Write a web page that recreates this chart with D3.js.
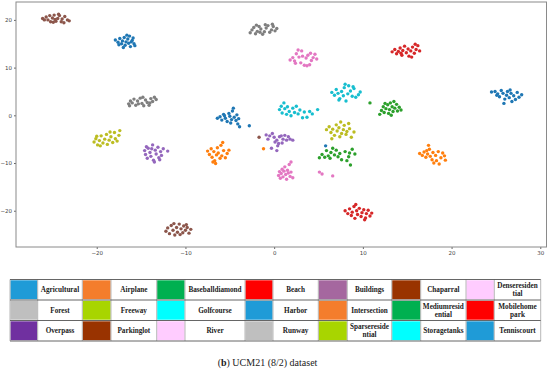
<!DOCTYPE html>
<html>
<head>
<meta charset="utf-8">
<script src="https://cdn.jsdelivr.net/npm/d3@7"></script>
<style>
  body { margin: 0; background: #fff; }
  svg { display: block; }
  .axis text { font-family: "DejaVu Sans", sans-serif; font-size: 5.5px; fill: #444; }
  .axis line { stroke: #666; }
  .legend-label { font-family: "Liberation Serif", serif; font-weight: bold; font-size: 7.2px; fill: #222; }
  .caption { font-family: "Liberation Serif", serif; font-size: 10px; fill: #222; }
</style>
</head>
<body>
<div id="chart"></div>
<script>
// class names, in the order the t-SNE colours were assigned
const classNames = [
  "Agricultural", "Airplane", "Baseballdiamond", "Beach", "Buildings", "Chaparral", "Denseresidential",
  "Forest", "Freeway", "Golfcourse", "Harbor", "Intersection", "Mediumresidential", "Mobilehomepark",
  "Overpass", "Parkinglot", "River", "Runway", "Sparseresidential", "Storagetanks", "Tenniscourt",
];

// matplotlib tab10, cycling
const pointColors = ["#1f77b4", "#ff7f0e", "#2ca02c", "#d62728", "#9467bd",
  "#8c564b", "#e377c2", "#7f7f7f", "#bcbd22", "#17becf"];

// embedded points per class [x, y]
const agricultural = [[-17.9,15.8],[-17.6,15.3],[-17.4,16.1],[-17.2,15.0],[-17.1,15.6],[-16.9,16.3],[-16.8,14.7],[-16.7,15.4],[-16.5,16.0],[-16.4,15.1],[-16.3,16.6],[-16.2,14.4],[-16.0,15.7],[-15.9,16.2],[-15.8,15.0],[-15.7,14.6],[-17.0,14.2],[-16.6,16.8],[-17.5,14.8],[-16.1,15.4]];
const airplane = [[-7.5,-7.5],[-7.3,-8.2],[-7.1,-7.0],[-7.0,-8.8],[-6.8,-7.6],[-6.7,-9.5],[-6.5,-8.3],[-6.4,-6.8],[-6.3,-7.9],[-6.1,-9.0],[-6.0,-6.3],[-5.9,-8.5],[-5.7,-7.4],[-5.5,-8.9],[-5.3,-8.0],[-5.1,-7.3],[-6.6,-10.1],[-5.8,-5.7],[-6.9,-9.8],[-1.2,-7.0]];
const baseballdiamond = [[11.9,0.2],[12.1,1.0],[12.3,1.8],[12.4,0.6],[12.6,1.4],[12.8,2.2],[12.9,0.4],[13.0,1.2],[13.1,2.6],[13.3,1.8],[13.4,0.8],[13.5,2.9],[13.6,1.5],[13.8,2.3],[13.9,0.9],[14.1,1.7],[14.3,1.1],[12.5,2.5],[13.2,0.0],[10.8,2.6]];
const beach = [[13.3,13.3],[13.6,13.8],[13.8,12.9],[14.0,13.4],[14.2,14.1],[14.4,12.6],[14.5,13.6],[14.7,14.5],[14.9,13.1],[15.1,13.9],[15.2,12.4],[15.4,13.5],[15.6,14.3],[15.8,13.0],[16.0,13.8],[16.2,14.6],[16.4,13.5],[14.3,13.0],[15.5,12.2],[15.9,14.9]];
const buildings = [[-0.9,-4.1],[-0.5,-4.3],[0.0,-4.6],[0.3,-5.2],[0.6,-4.5],[0.8,-4.3],[1.0,-5.0],[1.4,-5.2],[1.8,-5.0],[2.1,-5.2],[-0.3,-6.9],[0.3,-7.4],[0.5,-5.9],[-0.7,-5.0],[0.1,-5.6],[1.2,-4.2],[0.9,-5.8],[-0.2,-3.8],[1.6,-4.5],[0.4,-6.4]];
const chaparral = [[-26.1,20.3],[-25.7,20.6],[-25.5,20.0],[-25.2,19.6],[-25.0,20.4],[-24.8,21.0],[-24.6,19.7],[-24.4,20.3],[-24.2,20.9],[-24.0,19.6],[-23.9,20.2],[-23.7,19.4],[-23.3,20.0],[-25.9,20.0],[-24.9,19.5],[-24.3,21.2],[-23.6,20.7],[-25.3,20.9],[-24.7,20.1],[-23.1,19.8]];
const denseresidential = [[1.8,11.6],[2.1,12.1],[2.3,11.4],[2.5,12.9],[2.7,13.7],[2.8,12.2],[3.0,11.0],[3.2,12.4],[3.4,10.5],[3.6,12.0],[3.8,12.6],[4.0,10.6],[4.2,11.5],[4.4,12.1],[4.6,12.8],[4.8,11.8],[3.1,13.5],[2.4,10.9],[3.7,10.4],[4.1,13.0]];
const forest = [[-2.7,17.3],[-2.5,17.9],[-2.3,18.4],[-2.1,17.1],[-1.9,17.6],[-1.7,18.6],[-1.5,18.1],[-1.3,17.0],[-1.1,17.5],[-0.9,18.3],[-0.7,18.8],[-0.5,17.4],[-0.3,17.9],[-0.1,18.6],[0.1,17.7],[0.3,18.2],[-2.0,18.9],[-1.0,19.0],[-0.2,19.1],[-1.6,17.4]];
const freeway = [[-20.3,-5.6],[-20.1,-4.9],[-19.9,-6.2],[-19.7,-5.3],[-19.5,-4.3],[-19.3,-5.8],[-19.1,-5.0],[-18.9,-4.0],[-18.8,-6.1],[-18.6,-5.2],[-18.4,-4.5],[-18.2,-5.7],[-18.0,-3.6],[-17.9,-4.9],[-17.7,-5.4],[-17.5,-4.2],[-17.4,-3.2],[-19.6,-6.4],[-18.5,-3.5],[-20.0,-4.4]];
const golfcourse = [[6.5,4.8],[6.8,4.2],[7.0,5.4],[7.2,4.6],[7.4,3.5],[7.6,5.0],[7.8,4.1],[7.9,5.8],[8.1,3.0],[8.3,4.5],[8.4,6.2],[8.6,5.1],[8.8,4.0],[9.0,5.6],[9.2,3.8],[9.5,4.3],[9.7,4.9],[8.0,6.5],[7.3,3.2],[8.9,6.0]];
const harbor = [[24.5,4.9],[24.9,5.0],[25.2,4.5],[25.4,3.9],[25.6,5.2],[25.8,4.6],[26.0,3.4],[26.2,4.2],[26.3,5.0],[26.5,3.7],[26.7,4.6],[26.8,2.9],[27.0,4.1],[27.2,3.3],[27.4,4.8],[27.6,3.8],[27.9,4.3],[25.9,2.5],[26.6,5.3],[25.1,4.2]];
const intersection = [[16.4,-8.0],[16.7,-8.4],[16.9,-7.7],[17.1,-8.8],[17.3,-8.1],[17.4,-6.3],[17.5,-7.1],[17.6,-8.6],[17.8,-9.3],[17.9,-7.8],[18.0,-10.0],[18.2,-8.4],[18.3,-9.5],[18.5,-7.6],[18.6,-10.2],[18.8,-8.9],[19.0,-7.9],[19.2,-8.5],[19.3,-9.4],[17.2,-7.4]];
const mediumresidential = [[5.1,-8.9],[5.4,-8.2],[5.7,-8.8],[5.9,-7.4],[6.1,-8.5],[6.3,-9.0],[6.4,-7.8],[6.6,-6.9],[6.8,-8.3],[7.0,-7.3],[7.2,-8.7],[7.4,-8.0],[7.6,-9.3],[8.0,-7.6],[8.2,-9.5],[8.4,-8.7],[8.6,-10.4],[8.8,-7.1],[9.1,-8.1],[8.5,-7.9]];
const mobilehomepark = [[8.0,-20.0],[8.3,-20.6],[8.5,-19.6],[8.7,-21.0],[8.8,-20.3],[9.0,-19.1],[9.1,-21.6],[9.3,-20.0],[9.4,-20.8],[9.6,-19.5],[9.8,-21.2],[9.9,-20.4],[10.1,-19.8],[10.3,-21.5],[10.4,-20.6],[10.6,-19.9],[10.8,-21.1],[11.0,-20.5],[9.2,-18.7],[10.2,-21.9]];
const overpass = [[-14.6,-7.4],[-14.5,-8.2],[-14.3,-9.0],[-14.2,-6.9],[-14.0,-7.8],[-13.9,-8.6],[-13.7,-6.2],[-13.6,-9.4],[-13.4,-7.3],[-13.3,-8.1],[-13.1,-6.7],[-13.0,-8.9],[-12.8,-7.6],[-12.7,-8.4],[-12.5,-7.0],[-12.0,-7.5],[-13.5,-9.8],[-13.8,-7.0],[-12.9,-9.3],[-14.4,-6.6]];
const parkinglot = [[-12.2,-24.3],[-12.0,-23.6],[-11.8,-24.8],[-11.6,-23.1],[-11.4,-24.1],[-11.2,-25.1],[-11.0,-23.5],[-10.9,-24.5],[-10.7,-22.8],[-10.5,-23.8],[-10.3,-24.6],[-10.2,-23.2],[-10.0,-24.1],[-9.8,-23.5],[-9.6,-24.7],[-9.4,-23.9],[-11.3,-22.7],[-10.6,-25.0],[-9.9,-22.9],[-1.7,-4.6]];
const river = [[0.5,-12.6],[0.6,-11.8],[0.7,-13.2],[0.8,-12.2],[0.9,-11.3],[1.0,-12.9],[1.1,-11.7],[1.2,-10.8],[1.3,-12.4],[1.4,-13.4],[1.5,-11.5],[1.6,-12.1],[1.7,-10.3],[1.8,-12.8],[1.9,-11.9],[2.1,-13.1],[1.9,-9.8],[5.1,-11.9],[5.4,-12.3],[6.6,-12.7]];
const runway = [[-16.4,2.4],[-16.2,3.0],[-16.0,2.6],[-15.8,3.4],[-15.6,2.1],[-15.4,3.0],[-15.1,3.6],[-14.9,2.5],[-14.7,2.0],[-14.5,3.2],[-14.3,2.7],[-14.1,2.1],[-13.9,3.5],[-13.7,2.9],[-13.5,3.8],[-13.3,3.3],[-14.8,3.8],[-15.3,2.4],[-14.0,2.6],[-16.3,2.0]];
const sparseresidential = [[5.9,-3.0],[6.2,-2.4],[6.4,-3.6],[6.6,-2.9],[6.8,-4.2],[7.0,-2.0],[7.1,-3.3],[7.3,-2.6],[7.4,-4.5],[7.5,-1.4],[7.6,-3.8],[7.8,-3.0],[7.9,-2.1],[8.1,-4.0],[8.2,-3.4],[8.4,-1.7],[8.5,-2.8],[8.7,-4.6],[9.0,-3.5],[6.5,-4.9]];
const storagetanks = [[0.6,1.2],[0.8,1.9],[0.9,0.5],[1.1,2.6],[1.2,1.4],[1.4,0.2],[1.5,1.8],[1.7,0.8],[1.9,-0.1],[2.1,1.5],[2.3,0.6],[2.5,1.9],[2.7,0.3],[2.9,1.1],[3.2,-0.5],[3.4,0.7],[3.7,-0.4],[4.0,0.8],[4.3,0.3],[4.9,1.2]];
const tenniscourt = [[-6.4,-0.6],[-6.1,-0.3],[-5.9,-1.0],[-5.7,0.2],[-5.5,-0.6],[-5.3,-1.3],[-5.1,0.4],[-5.0,-0.2],[-4.8,-0.9],[-4.7,0.9],[-4.5,-0.4],[-4.3,-1.1],[-4.2,0.1],[-4.0,-0.7],[-4.1,-1.8],[-4.6,1.5],[-5.6,-0.1],[-4.9,-1.6],[-3.9,-2.4],[-2.8,-2.2],[5.8,-6.4]];

const classPoints = [agricultural, airplane, baseballdiamond, beach, buildings, chaparral, denseresidential,
  forest, freeway, golfcourse, harbor, intersection, mediumresidential, mobilehomepark,
  overpass, parkinglot, river, runway, sparseresidential, storagetanks, tenniscourt];

const xTicks = [-20, -10, 0, 10, 20, 30];
const yTicks = [-20, -10, 0, 10, 20];

// legend table, row by row (7 columns x 3 rows)
const legendLabels = [
  ["Agricultural"], ["Airplane"], ["Baseballdiamond"], ["Beach"], ["Buildings"], ["Chaparral"], ["Denseresiden", "tial"],
  ["Forest"], ["Freeway"], ["Golfcourse"], ["Harbor"], ["Intersection"], ["Mediumresid", "ential"], ["Mobilehome", "park"],
  ["Overpass"], ["Parkinglot"], ["River"], ["Runway"], ["Sparsereside", "ntial"], ["Storagetanks"], ["Tenniscourt"],
];
const legendColors = [
  "#1f9bd7", "#f47d2c", "#00b050", "#ff0000", "#a5679f", "#993300", "#ffccff",
  "#bfbfbf", "#a8d500", "#00ffff", "#1f9bd7", "#f47d2c", "#00b050", "#ff0000",
  "#7030a0", "#993300", "#ffccff", "#bfbfbf", "#a8d500", "#00ffff", "#1f9bd7",
];

const captionLabel = "b";
const captionText = " UCM21 (8/2) dataset";

const width = 550;
const height = 373;
const plot = { left: 16, right: 546.5, top: 2, bottom: 247 };

const x = d3.scaleLinear().domain([-29.1, 30.7]).range([plot.left, plot.right]);
const y = d3.scaleLinear().domain([-27.6, 23.75]).range([plot.bottom, plot.top]);

const svg = d3.select("#chart")
  .append("svg")
  .attr("width", width)
  .attr("height", height);

svg.append("rect")
  .attr("width", width)
  .attr("height", height)
  .attr("fill", "#fff");

// points
const pointsG = svg.append("g");
classPoints.forEach((pts, i) => {
  pointsG.append("g")
    .selectAll("circle")
    .data(pts)
    .join("circle")
    .attr("cx", (d) => x(d[0]))
    .attr("cy", (d) => y(d[1]))
    .attr("r", 1.7)
    .attr("fill", pointColors[i % pointColors.length]);
});

// axes
const fmt = (d) => (d < 0 ? "\u2212" + Math.abs(d) : d);

svg.append("g")
  .attr("class", "axis")
  .attr("transform", `translate(0,${plot.bottom})`)
  .call(d3.axisBottom(x).tickValues(xTicks).tickFormat(fmt).tickSize(2).tickPadding(2.5))
  .call((g) => g.select(".domain").remove());

svg.append("g")
  .attr("class", "axis")
  .attr("transform", `translate(${plot.left},0)`)
  .call(d3.axisLeft(y).tickValues(yTicks).tickFormat(fmt).tickSize(2).tickPadding(2))
  .call((g) => g.select(".domain").remove());

svg.append("rect")
  .attr("x", plot.left)
  .attr("y", plot.top)
  .attr("width", plot.right - plot.left)
  .attr("height", plot.bottom - plot.top)
  .attr("fill", "none")
  .attr("stroke", "#8a8a8a")
  .attr("stroke-width", 1);

// legend table
const colEdges = [10, 37.7, 82.3, 111, 156.7, 185, 245, 273, 318.3, 347.3, 391.7, 420.7, 466, 494.3, 540.7];
const rowEdges = [279.5, 300, 320.5, 341];

const legendG = svg.append("g");
legendLabels.forEach((lines, i) => {
  const col = i % 7;
  const row = Math.floor(i / 7);
  const x0 = colEdges[col * 2];
  const x1 = colEdges[col * 2 + 1];
  const x2 = colEdges[col * 2 + 2];
  const y0 = rowEdges[row];
  const y1 = rowEdges[row + 1];

  legendG.append("rect")
    .attr("x", x0 + 0.5)
    .attr("y", y0 + 0.8)
    .attr("width", x1 - x0 - 1)
    .attr("height", y1 - y0 - 1.6)
    .attr("fill", legendColors[i]);

  const t = legendG.append("text")
    .attr("class", "legend-label")
    .attr("text-anchor", "middle")
    .attr("x", (x1 + x2) / 2)
    .attr("y", (y0 + y1) / 2 + 2.5 - (lines.length - 1) * 4);
  lines.forEach((line, j) => {
    t.append("tspan")
      .attr("x", (x1 + x2) / 2)
      .attr("dy", j === 0 ? 0 : 8)
      .text(line);
  });
});

// grid lines of the table
legendG.selectAll(".vline")
  .data(colEdges)
  .join("line")
  .attr("x1", (d) => d)
  .attr("x2", (d) => d)
  .attr("y1", rowEdges[0])
  .attr("y2", rowEdges[rowEdges.length - 1])
  .attr("stroke", "#9a9a9a")
  .attr("stroke-width", 0.7);

legendG.selectAll(".hline")
  .data(rowEdges)
  .join("line")
  .attr("x1", colEdges[0])
  .attr("x2", colEdges[colEdges.length - 1])
  .attr("y1", (d) => d)
  .attr("y2", (d) => d)
  .attr("stroke", "#555")
  .attr("stroke-width", 0.9);

// caption
const cap = svg.append("text")
  .attr("class", "caption")
  .attr("text-anchor", "middle")
  .attr("x", 267.5)
  .attr("y", 366);
cap.append("tspan").text("(");
cap.append("tspan").attr("font-weight", "bold").text(captionLabel);
cap.append("tspan").text(")" + captionText);
</script>
</body>
</html>
